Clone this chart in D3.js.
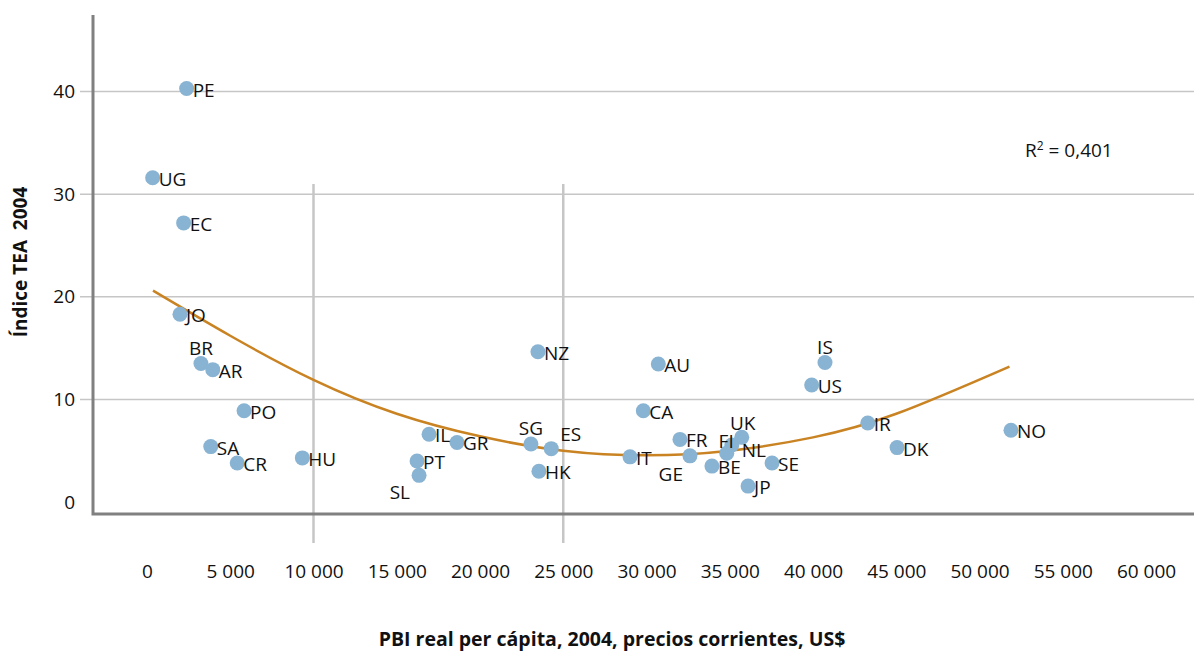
<!DOCTYPE html>
<html>
<head>
<meta charset="utf-8">
<script src="https://cdn.jsdelivr.net/npm/d3@7"></script>
<style>
  body { margin: 0; background: #fff; }
  text { font-family: "Open Sans", "Noto Sans", sans-serif; fill: #111; }
</style>
</head>
<body>
<div id="chart"></div>
<script>
// Country codes, GDP per capita (US$) and TEA index
var codes = ["PE","UG","EC","JO","BR","AR","PO","SA","CR","HU",
             "IL","GR","PT","SL","NZ","SG","ES","HK","IT","CA","AU",
             "FR","GE","BE","UK","FI","NL","JP","SE","US","IS","IR","DK","NO"];
var gdp   = [2380, 340, 2200, 1980, 3240, 3950, 5830, 3830, 5420, 9330,
             16940, 18620, 16220, 16340, 23480, 23060, 24280, 23540, 29010, 29810, 30710,
             32010, 32610, 33930, 35720, 35120, 34820, 36100, 37540, 39920, 40720, 43290, 45050, 51890];
var tea   = [40.3, 31.6, 27.2, 18.3, 13.5, 12.9, 8.9, 5.4, 3.8, 4.3,
             6.6, 5.8, 4.0, 2.6, 14.65, 5.65, 5.2, 3.0, 4.4, 8.9, 13.45,
             6.1, 4.5, 3.5, 6.3, 5.55, 4.75, 1.55, 3.8, 11.4, 13.6, 7.7, 5.3, 7.0];

// trend curve
var trendX = [360, 5000, 10000, 15000, 20000, 25000, 30000, 35000, 40000, 45000, 51800];
var trendY = [20.6, 16.2, 11.9, 8.6, 6.4, 5.0, 4.55, 5.0, 6.3, 8.6, 13.2];

var xTicks = [0, 5000, 10000, 15000, 20000, 25000, 30000, 35000, 40000, 45000, 50000, 55000, 60000];
var yTicks = [0, 10, 20, 30, 40];
var gridY = [10, 20, 30, 40];
var refX = [10000, 25000];

// label placement tweaks: [anchor, dx, dy]
var labelPos = {
  BR: ["middle", 0, -8], SG: ["middle", 0, -9], ES: ["start", 9, -8],
  SL: ["end", -9, 24], GE: ["end", -7, 25], UK: ["middle", 1, -7],
  FI: ["end", 2, 3], NL: ["start", 15, 4], IS: ["middle", 0, -8]
};

var width = 1200, height = 653;
var frame = { left: 93, right: 1194, top: 15, bottom: 514 };

var svg = d3.select("#chart").append("svg")
  .attr("width", width)
  .attr("height", height);

var x = d3.scaleLinear().domain([0, 60000]).range([147, 1146]);
var y = d3.scaleLinear().domain([0, 40]).range([502, 91.6]);

var locale = d3.formatLocale({ decimal: ",", thousands: " ", grouping: [3], currency: ["", " US$"] });
var fmt = locale.format(",");

// horizontal gridlines
svg.selectAll(".grid")
  .data(gridY)
  .enter()
  .append("line")
  .attr("x1", 80)
  .attr("x2", frame.right)
  .attr("y1", d => y(d))
  .attr("y2", d => y(d))
  .attr("stroke", "#c6c6c6")
  .attr("stroke-width", 1.5);

// vertical reference lines
svg.selectAll(".ref")
  .data(refX)
  .enter()
  .append("line")
  .attr("x1", d => x(d))
  .attr("x2", d => x(d))
  .attr("y1", y(31))
  .attr("y2", 543)
  .attr("stroke", "#c6c6c6")
  .attr("stroke-width", 2.5);

// frame (left + bottom axis lines)
svg.append("path")
  .attr("d", `M${frame.left},${frame.top}V${frame.bottom}H${frame.right}`)
  .attr("fill", "none")
  .attr("stroke", "#808080")
  .attr("stroke-width", 3);

// axes
var yAxis = svg.append("g")
  .attr("transform", "translate(80,0)")
  .call(d3.axisLeft(y).tickValues(yTicks).tickSize(0).tickPadding(5));
var xAxis = svg.append("g")
  .attr("transform", `translate(0,${frame.bottom})`)
  .call(d3.axisBottom(x).tickValues(xTicks).tickFormat(fmt).tickSize(0).tickPadding(51));
[xAxis, yAxis].forEach(g => {
  g.select(".domain").remove();
  g.selectAll("text")
    .attr("font-size", "19px")
    .attr("font-family", null)
    .attr("fill", "#111");
});

// trend line
var trend = d3.line()
  .x((d, i) => x(d))
  .y((d, i) => y(trendY[i]))
  .curve(d3.curveNatural);

svg.append("path")
  .attr("d", trend(trendX))
  .attr("fill", "none")
  .attr("stroke", "#c98322")
  .attr("stroke-width", 2.5);

// points
var idx = d3.range(codes.length);
svg.selectAll(".dot")
  .data(idx)
  .enter()
  .append("circle")
  .attr("cx", i => x(gdp[i]))
  .attr("cy", i => y(tea[i]))
  .attr("r", 7.5)
  .attr("fill", "#88b3d2");

svg.selectAll(".lbl")
  .data(idx)
  .enter()
  .append("text")
  .attr("x", i => x(gdp[i]) + (labelPos[codes[i]] ? labelPos[codes[i]][1] : 6))
  .attr("y", i => y(tea[i]) + (labelPos[codes[i]] ? labelPos[codes[i]][2] : 8))
  .attr("text-anchor", i => labelPos[codes[i]] ? labelPos[codes[i]][0] : "start")
  .attr("font-size", "19px")
  .text(i => codes[i]);

// R squared
var r2 = svg.append("text")
  .attr("x", 1025)
  .attr("y", 157)
  .attr("font-size", "19px");
r2.append("tspan").text("R");
r2.append("tspan").attr("dy", -7).attr("font-size", "12px").text("2");
r2.append("tspan").attr("dy", 7).text(" = 0,401");

// axis titles
svg.append("text")
  .attr("transform", "translate(27,262) rotate(-90)")
  .attr("text-anchor", "middle")
  .attr("font-size", "19px")
  .attr("font-weight", "bold")
  .attr("xml:space", "preserve")
  .text("Índice TEA  2004");

svg.append("text")
  .attr("x", 612)
  .attr("y", 646)
  .attr("text-anchor", "middle")
  .attr("font-size", "19.5px")
  .attr("font-weight", "bold")
  .text("PBI real per cápita, 2004, precios corrientes, US$");
</script>
</body>
</html>
